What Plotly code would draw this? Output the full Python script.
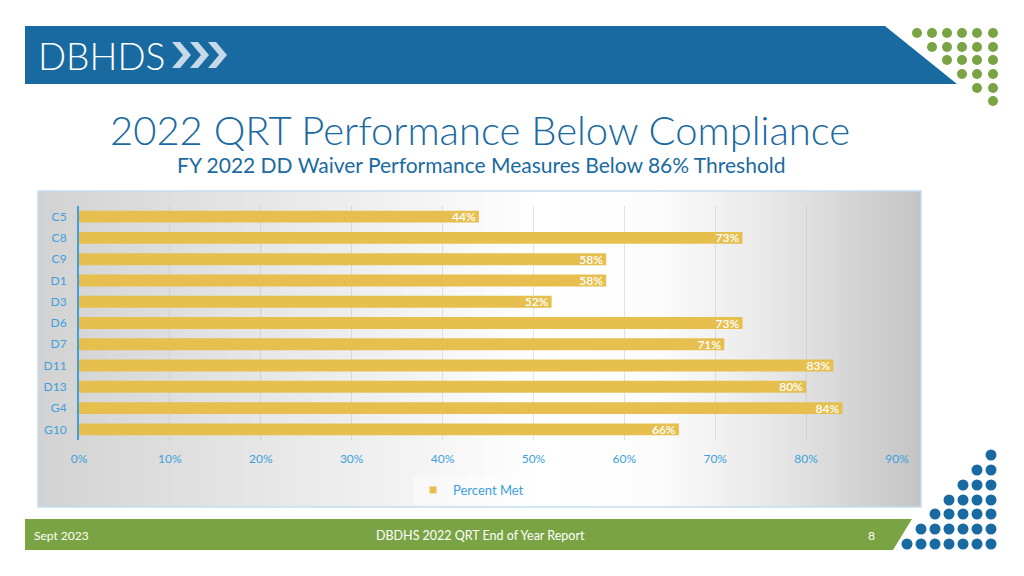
import plotly.graph_objects as go

# ---- data ----
categories = ["C5", "C8", "C9", "D1", "D3", "D6", "D7", "D11", "D13", "G4", "G10"]
percent_met = [0.44, 0.73, 0.58, 0.58, 0.52, 0.73, 0.71, 0.83, 0.80, 0.84, 0.66]
x_ticks = [0, 0.1, 0.2, 0.3, 0.4, 0.5, 0.6, 0.7, 0.8, 0.9]
x_tick_labels = ["0%", "10%", "20%", "30%", "40%", "50%", "60%", "70%", "80%", "90%"]
series_name = "Percent Met"
title_text = "2022 QRT Performance Below Compliance"
subtitle_text = "FY 2022 DD Waiver Performance Measures Below 86% Threshold"
footer_left = "Sept 2023"
footer_center = "DBDHS 2022 QRT End of Year Report"
footer_right = "8"

W, H = 1024, 576
BLUE = "#1a6aa2"
GREEN = "#7aa443"
LIGHTBLUE = "#3d9fdc"
BAR = "#e6bf4f"
FONT = "Lato"


def px(x):
    return x / W


def py(y):
    return 1 - y / H


def path(points):
    return "M " + " L ".join(f"{px(x)},{py(y)}" for x, y in points) + " Z"


fig = go.Figure()
fig.add_trace(go.Bar(
    y=categories, x=percent_met, orientation="h", name=series_name,
    marker=dict(color=BAR, line=dict(width=0)),
    text=[f"{round(v*100)}%" for v in percent_met],
    textposition="inside", insidetextanchor="end", constraintext="none",
    textfont=dict(color="white", size=12, family=FONT, weight=600),
    cliponaxis=False, showlegend=False,
))
# legend entry with a small square key
fig.add_trace(go.Scatter(
    x=[None], y=[None], mode="markers", name=series_name,
    marker=dict(symbol="square", size=7, color=BAR), showlegend=True,
))

shapes = []

# chart box gradient background (horizontal strips)
box_x0, box_x1, box_y0, box_y1 = 38, 921, 191, 507
stops = [(38, 210), (200, 225), (400, 242), (540, 255), (660, 252), (780, 230), (921, 196)]


def grey_at(x):
    for (xa, ga), (xb, gb) in zip(stops[:-1], stops[1:]):
        if xa <= x <= xb:
            t = (x - xa) / (xb - xa)
            return ga + (gb - ga) * t
    return stops[-1][1]


step = 5
x = box_x0
while x < box_x1:
    x2 = min(x + step, box_x1)
    g = int(round(grey_at((x + x2) / 2)))
    shapes.append(dict(type="rect", xref="paper", yref="paper",
                       x0=px(x), x1=px(min(x2 + 0.6, box_x1)), y0=py(box_y1), y1=py(box_y0),
                       fillcolor=f"rgb({g},{g},{g})", line=dict(width=0), layer="below"))
    x = x2
shapes.append(dict(type="rect", xref="paper", yref="paper",
                   x0=px(box_x0), x1=px(box_x1), y0=py(box_y1), y1=py(box_y0),
                   line=dict(color="#c5dcef", width=1.5), fillcolor="rgba(0,0,0,0)", layer="below"))

# header bar
shapes.append(dict(type="path", xref="paper", yref="paper",
                   path=path([(25, 26), (885, 26), (957, 84), (25, 84)]),
                   fillcolor=BLUE, line=dict(width=0)))
# chevrons in logo
for i in range(3):
    x0 = 172 + i * 18
    pts = [(x0, 42), (x0 + 8, 42), (x0 + 19, 55), (x0 + 8, 68), (x0, 68), (x0 + 11, 55)]
    shapes.append(dict(type="path", xref="paper", yref="paper", path=path(pts),
                       fillcolor="rgba(255,255,255,0.75)", line=dict(width=0)))

# green dot triangle (top right)
gx = [917, 932, 947, 962, 977, 993]
gy = [33, 47, 60, 74, 88, 101]
for r, yv in enumerate(gy):
    for c in range(r, 6):
        xc = gx[c]
        shapes.append(dict(type="circle", xref="paper", yref="paper",
                           x0=px(xc - 5), x1=px(xc + 5), y0=py(yv + 5), y1=py(yv - 5),
                           fillcolor=GREEN, line=dict(width=0)))

# footer bar
shapes.append(dict(type="path", xref="paper", yref="paper",
                   path=path([(25, 519), (912, 519), (893, 550), (25, 550)]),
                   fillcolor=GREEN, line=dict(width=0)))

# blue dot triangle (bottom right)
bx = [991, 977, 963, 949, 935, 921, 907]
by = [455, 470, 485, 500, 514, 529, 544]
for r, yv in enumerate(by):
    for c in range(r + 1):
        xc = bx[c]
        shapes.append(dict(type="circle", xref="paper", yref="paper",
                           x0=px(xc - 5.5), x1=px(xc + 5.5), y0=py(yv + 5.5), y1=py(yv - 5.5),
                           fillcolor=BLUE, line=dict(width=0)))

annotations = [
    dict(text="DBHDS", x=px(36), y=py(56), xref="paper", yref="paper", xanchor="left", yanchor="middle",
         showarrow=False, font=dict(family=FONT, size=37, color="white", weight=300)),
    dict(text=title_text, x=px(480), y=py(130), xref="paper", yref="paper", xanchor="center", yanchor="middle",
         showarrow=False, font=dict(family=FONT, size=40, color=BLUE, weight=300)),
    dict(text=subtitle_text, x=px(481), y=py(164), xref="paper", yref="paper", xanchor="center", yanchor="middle",
         showarrow=False, font=dict(family=FONT, size=21, color=BLUE, weight=400)),
    dict(text=footer_left, x=px(32), y=py(535), xref="paper", yref="paper", xanchor="left", yanchor="middle",
         showarrow=False, font=dict(family=FONT, size=12, color="white")),
    dict(text=footer_center, x=px(480), y=py(535), xref="paper", yref="paper", xanchor="center", yanchor="middle",
         showarrow=False, font=dict(family=FONT, size=12.5, color="white")),
    dict(text=footer_right, x=px(871), y=py(535), xref="paper", yref="paper", xanchor="center", yanchor="middle",
         showarrow=False, font=dict(family=FONT, size=12, color="white")),
]

fig.update_layout(
    width=W, height=H, margin=dict(l=0, r=0, t=0, b=0, pad=0, autoexpand=False),
    paper_bgcolor="white", plot_bgcolor="rgba(0,0,0,0)",
    bargap=0.44,
    shapes=shapes, annotations=annotations,
    font=dict(family=FONT, color=LIGHTBLUE),
    xaxis=dict(domain=[px(79), px(897)], range=[0, 0.9], tickvals=x_ticks, ticktext=x_tick_labels,
               showgrid=True, gridcolor="rgba(190,190,190,0.45)", gridwidth=1, zeroline=False,
               showline=False, tickfont=dict(size=12, color=LIGHTBLUE, family=FONT), ticks="",
               ticklabelstandoff=10, fixedrange=True, automargin=False),
    yaxis=dict(domain=[py(440), py(206)], autorange="reversed", categoryorder="array",
               categoryarray=categories, showline=True, linecolor=LIGHTBLUE, linewidth=2,
               showgrid=False, tickfont=dict(size=12, color=LIGHTBLUE, family=FONT), ticks="",
               ticklabelstandoff=8, fixedrange=True, automargin=False),
    legend=dict(orientation="h", x=px(413), y=py(490), xanchor="left", yanchor="middle",
                itemwidth=30, bgcolor="rgba(255,255,255,0.35)",
                font=dict(size=13, color=LIGHTBLUE, family=FONT)),
)

fig.write_html(
    "out.html",
    config={"displayModeBar": False},
    post_script="document.body.style.margin='0';document.body.style.overflow='hidden';",
)
